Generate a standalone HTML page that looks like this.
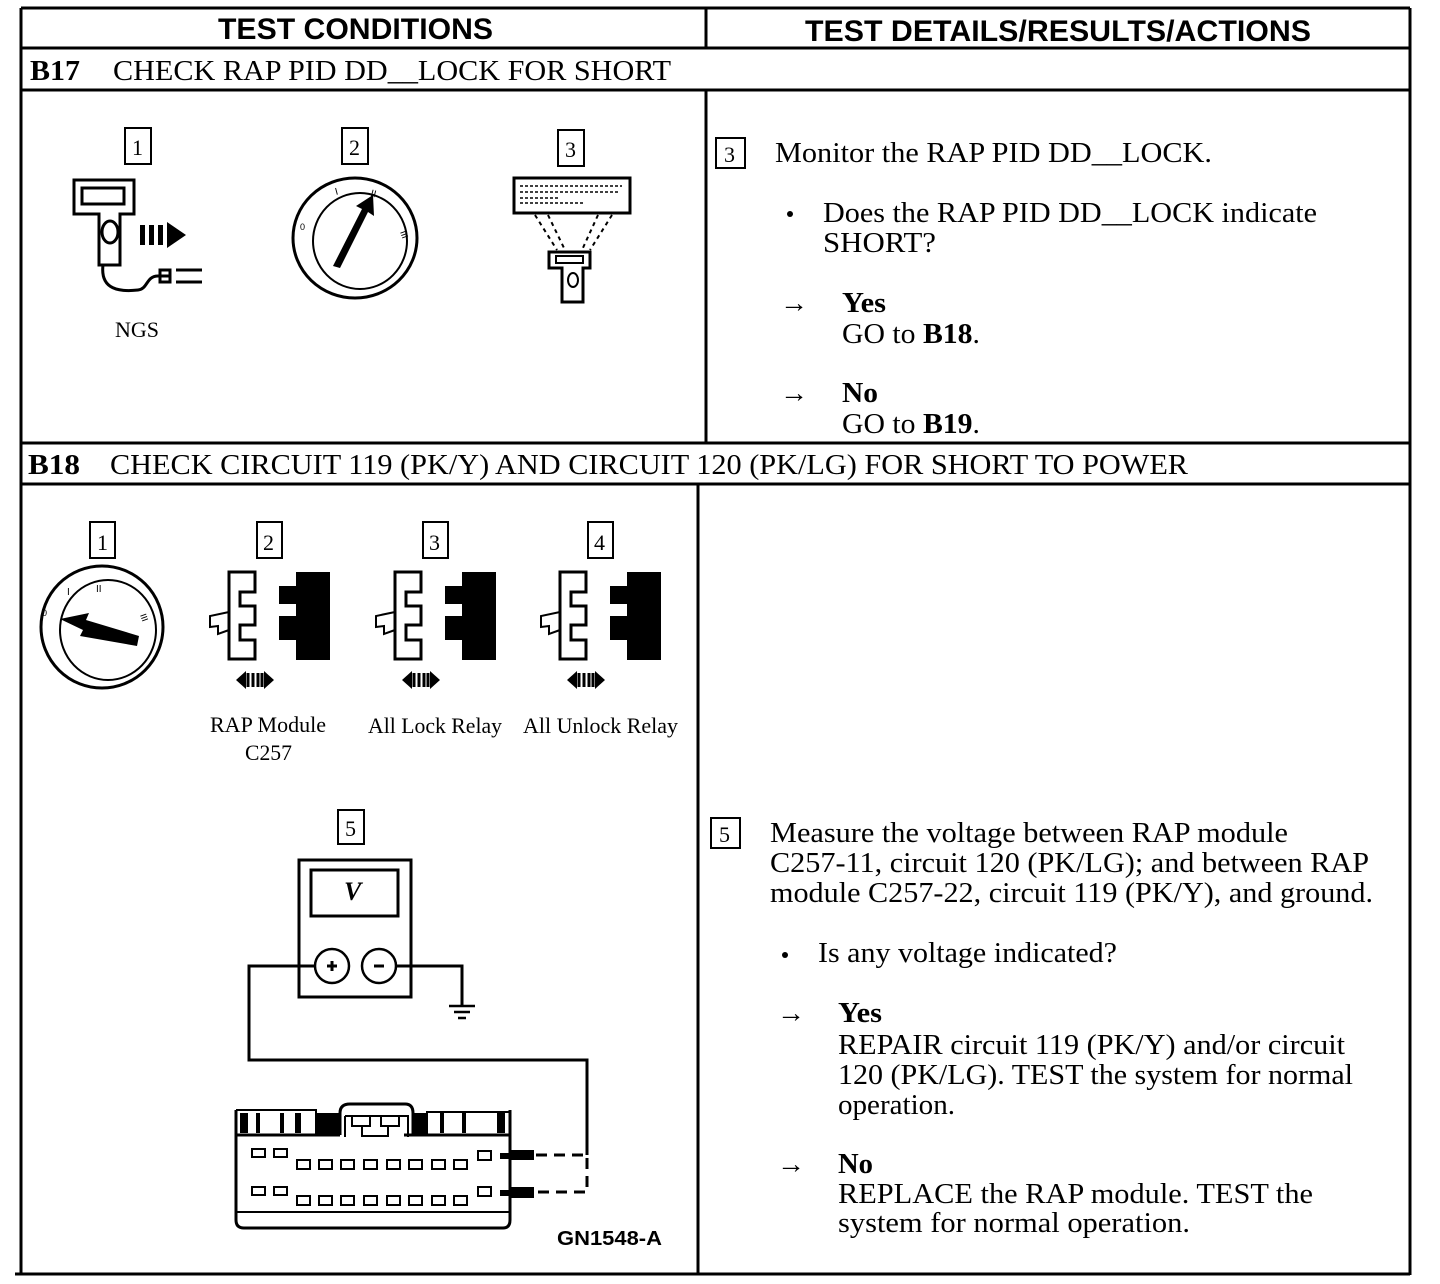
<!DOCTYPE html>
<html><head><meta charset="utf-8"><style>
html,body{margin:0;padding:0;background:#fff;}
svg{display:block;}
.s{font-family:"Liberation Serif",serif;font-size:28px;fill:#000;}
.h{font-family:"Liberation Sans",sans-serif;font-weight:bold;font-size:30px;fill:#000;}
.b{font-weight:bold;}
.n{font-family:"Liberation Serif",serif;font-size:22px;}
.l{font-family:"Liberation Serif",serif;font-size:22px;}
</style></head><body>
<svg width="1440" height="1284" viewBox="0 0 1440 1284" xmlns="http://www.w3.org/2000/svg">
<g stroke="#000" stroke-width="3" fill="none">
<line x1="21" y1="8" x2="1410" y2="8"/>
<line x1="21" y1="8" x2="21" y2="1275"/>
<line x1="1410" y1="8" x2="1410" y2="1275"/>
<line x1="21" y1="48" x2="1410" y2="48"/>
<line x1="21" y1="90" x2="1410" y2="90"/>
<line x1="706" y1="8" x2="706" y2="48"/>
<line x1="706" y1="90" x2="706" y2="443"/>
<line x1="21" y1="443" x2="1410" y2="443"/>
<line x1="21" y1="484" x2="1410" y2="484"/>
<line x1="698" y1="484" x2="698" y2="1275"/>
<line x1="15" y1="1274" x2="1410" y2="1274"/>
</g>
<text class="h" x="218" y="39" textLength="275" lengthAdjust="spacingAndGlyphs">TEST CONDITIONS</text>
<text class="h" x="805" y="41" textLength="506" lengthAdjust="spacingAndGlyphs">TEST DETAILS/RESULTS/ACTIONS</text>
<text class="s b" x="30" y="80" textLength="50" lengthAdjust="spacingAndGlyphs">B17</text>
<text class="s" x="113" y="80" textLength="558" lengthAdjust="spacingAndGlyphs">CHECK RAP PID DD__LOCK FOR SHORT</text>
<text class="s b" x="28" y="474" textLength="52" lengthAdjust="spacingAndGlyphs">B18</text>
<text class="s" x="110" y="474" textLength="1078" lengthAdjust="spacingAndGlyphs">CHECK CIRCUIT 119 (PK/Y) AND CIRCUIT 120 (PK/LG) FOR SHORT TO POWER</text>

<rect x="716" y="138" width="29" height="30" fill="none" stroke="#000" stroke-width="2"/>
<text class="n" x="724" y="162">3</text>
<text class="s" x="775" y="162" textLength="437" lengthAdjust="spacingAndGlyphs">Monitor the RAP PID DD__LOCK.</text>
<circle cx="790" cy="214" r="3"/>
<text class="s" x="823" y="222" textLength="494" lengthAdjust="spacingAndGlyphs">Does the RAP PID DD__LOCK indicate</text>
<text class="s" x="823" y="252" textLength="113" lengthAdjust="spacingAndGlyphs">SHORT?</text>
<text class="s" x="780" y="312">→</text>
<text class="s b" x="842" y="312" textLength="44" lengthAdjust="spacingAndGlyphs">Yes</text>
<text class="s" x="842" y="343" textLength="138" lengthAdjust="spacingAndGlyphs">GO to <tspan font-weight="bold">B18</tspan>.</text>
<text class="s" x="780" y="402">→</text>
<text class="s b" x="842" y="402" textLength="36" lengthAdjust="spacingAndGlyphs">No</text>
<text class="s" x="842" y="433" textLength="138" lengthAdjust="spacingAndGlyphs">GO to <tspan font-weight="bold">B19</tspan>.</text>

<rect x="711" y="818" width="29" height="30" fill="none" stroke="#000" stroke-width="2"/>
<text class="n" x="719" y="842">5</text>
<text class="s" x="770" y="842" textLength="518" lengthAdjust="spacingAndGlyphs">Measure the voltage between RAP module</text>
<text class="s" x="770" y="872" textLength="599" lengthAdjust="spacingAndGlyphs">C257-11, circuit 120 (PK/LG); and between RAP</text>
<text class="s" x="770" y="902" textLength="603" lengthAdjust="spacingAndGlyphs">module C257-22, circuit 119 (PK/Y), and ground.</text>
<circle cx="785" cy="955" r="3"/>
<text class="s" x="818" y="962" textLength="299" lengthAdjust="spacingAndGlyphs">Is any voltage indicated?</text>
<text class="s" x="777" y="1022">→</text>
<text class="s b" x="838" y="1022" textLength="44" lengthAdjust="spacingAndGlyphs">Yes</text>
<text class="s" x="838" y="1054" textLength="507" lengthAdjust="spacingAndGlyphs">REPAIR circuit 119 (PK/Y) and/or circuit</text>
<text class="s" x="838" y="1084" textLength="515" lengthAdjust="spacingAndGlyphs">120 (PK/LG). TEST the system for normal</text>
<text class="s" x="838" y="1114" textLength="117" lengthAdjust="spacingAndGlyphs">operation.</text>
<text class="s" x="777" y="1173">→</text>
<text class="s b" x="838" y="1173" textLength="35" lengthAdjust="spacingAndGlyphs">No</text>
<text class="s" x="838" y="1203" textLength="475" lengthAdjust="spacingAndGlyphs">REPLACE the RAP module. TEST the</text>
<text class="s" x="838" y="1232" textLength="352" lengthAdjust="spacingAndGlyphs">system for normal operation.</text>

<g stroke="#000" stroke-width="2" fill="none">
<rect x="125" y="128" width="26" height="36"/>
<rect x="342" y="128" width="26" height="36"/>
<rect x="558" y="130" width="26" height="36"/>
</g>
<text class="n" x="132" y="155">1</text><text class="n" x="349" y="155">2</text><text class="n" x="565" y="157">3</text>
<g stroke="#000" stroke-width="3" fill="none">
<path d="M74 180 H134 V214 H120 V265 H99 V214 H74 Z"/>
<rect x="82" y="188" width="42" height="16"/>
<ellipse cx="110" cy="232" rx="8" ry="11"/>
<path d="M103 265 C100 290 120 292 138 290 C148 289 146 276 158 276 H170"/>
<rect x="160" y="270" width="10" height="12"/>
<path d="M176 270 H202 M176 282 H202"/>
</g>
<path d="M140 225 h5 v20 h-5z M149 225 h5 v20 h-5z M158 225 h5 v20 h-5z M167 222 L186 235 L167 248 Z" fill="#000"/>
<text class="l" x="115" y="337">NGS</text>
<g stroke="#000" fill="none">
<ellipse cx="355" cy="238" rx="62" ry="60" stroke-width="3"/>
<ellipse cx="360" cy="241" rx="47" ry="48" stroke-width="2"/>
</g>
<path d="M333 266 L340 268 L368 212 L374 216 L373 195 L356 206 L362 209 Z" fill="#000"/>
<text x="300" y="230" font-size="9" font-family="Liberation Sans">0</text>
<text x="336" y="195" font-size="10" font-family="Liberation Sans" transform="rotate(-15 336 195)">I</text>
<text x="370" y="196" font-size="10" font-family="Liberation Sans" transform="rotate(15 370 196)">II</text>
<text x="400" y="232" font-size="9" font-family="Liberation Sans" transform="rotate(70 400 232)">III</text>
<g stroke="#000" fill="none">
<rect x="514" y="178" width="116" height="35" stroke-width="3"/>
<path d="M520 186 H622 M520 192 H620 M520 198 H560 M520 203 H585" stroke-width="1.5" stroke-dasharray="3 2"/>
<path d="M535 215 L557 250 M548 215 L565 250 M612 215 L590 250 M598 215 L582 250" stroke-width="2" stroke-dasharray="4 4"/>
<path d="M549 252 H590 V268 H583 V302 H562 V268 H549 Z" stroke-width="3"/>
<rect x="556" y="256" width="27" height="7" stroke-width="2"/>
<ellipse cx="573" cy="280" rx="5" ry="7" stroke-width="2"/>
</g>

<g stroke="#000" stroke-width="2" fill="none">
<rect x="90" y="522" width="25" height="36"/>
<rect x="257" y="522" width="25" height="36"/>
<rect x="423" y="522" width="25" height="36"/>
<rect x="588" y="522" width="25" height="36"/>
</g>
<text class="n" x="97" y="550">1</text><text class="n" x="263" y="550">2</text><text class="n" x="429" y="550">3</text><text class="n" x="594" y="550">4</text>
<g stroke="#000" fill="none">
<ellipse cx="102" cy="627" rx="61" ry="61" stroke-width="3"/>
<ellipse cx="108" cy="630" rx="48" ry="50" stroke-width="2"/>
</g>
<path d="M60 619 L83 630 L80 636 L137 646 L139 636 L86 620 L89 613 Z" fill="#000"/>
<text x="42" y="616" font-size="9" font-family="Liberation Sans">0</text>
<text x="67" y="595" font-size="10" font-family="Liberation Sans">I</text>
<text x="96" y="592" font-size="10" font-family="Liberation Sans">II</text>
<text x="140" y="615" font-size="9" font-family="Liberation Sans" transform="rotate(70 140 615)">III</text>
<g id="c2">
<path d="M229 572 H255 V592 H240 V606 H255 V625 H240 V640 H255 V659 H229 Z" fill="none" stroke="#000" stroke-width="3"/>
<path d="M229 612 L210 616 V627 L218 626 V634 L229 630" fill="none" stroke="#000" stroke-width="2"/>
<path d="M296 572 H330 V660 H296 V640 H279 V616 H296 V604 H279 V586 H296 Z" fill="#000"/>
<path d="M236 680 L246 671 V689 Z M274 680 L264 671 V689 Z" fill="#000"/>
<path d="M248 673 v14 M253 673 v14 M258 673 v14 M262 673 v14" stroke="#000" stroke-width="3"/>
</g>
<use href="#c2" x="166"/>
<use href="#c2" x="331"/>
<text class="l" x="210" y="732" textLength="116" lengthAdjust="spacingAndGlyphs">RAP Module</text>
<text class="l" x="245" y="760" textLength="47" lengthAdjust="spacingAndGlyphs">C257</text>
<text class="l" x="368" y="733" textLength="134" lengthAdjust="spacingAndGlyphs">All Lock Relay</text>
<text class="l" x="523" y="733" textLength="155" lengthAdjust="spacingAndGlyphs">All Unlock Relay</text>

<rect x="338" y="810" width="26" height="34" fill="none" stroke="#000" stroke-width="2"/>
<text class="n" x="345" y="836">5</text>
<g stroke="#000" fill="none">
<rect x="299" y="860" width="112" height="137" stroke-width="3"/>
<rect x="311" y="870" width="87" height="46" stroke-width="3"/>
<circle cx="332" cy="966" r="17" stroke-width="2.5"/>
<circle cx="379" cy="966" r="17" stroke-width="2.5"/>
<path d="M315 966 H249 V1060 H587 V1155" stroke-width="3"/>
<path d="M396 966 H462 V1005" stroke-width="3"/>
<path d="M449 1006 H475 M454 1012 H470 M458 1018 H466" stroke-width="2.5"/>
<path d="M327 966 H337 M332 961 V971 M374 966 H384" stroke-width="3"/>
<path d="M536 1155 H587 V1192 H536" stroke-width="3" stroke-dasharray="11 7"/>
</g>
<text x="344" y="900" font-family="Liberation Serif" font-size="26" font-style="italic" font-weight="bold">V</text>
<g stroke="#000" fill="none">
<path d="M236 1110 V1220 Q236 1228 244 1228 H503 Q510 1228 510 1220 V1110" stroke-width="3"/>
<path d="M236 1135 H340 M404 1135 H510" stroke-width="3"/>
<path d="M236 1110 H316 V1135 M427 1135 V1112 H510" stroke-width="2"/>
<path d="M340 1135 V1113 Q340 1104 350 1104 H405 Q413 1104 413 1113 V1135" stroke-width="3"/>
<path d="M345 1116 H408 V1137 M345 1116 V1137" stroke-width="2"/>
<path d="M352 1116 H370 V1126 H352 Z M381 1116 H399 V1126 H381 Z M362 1126 V1136 H388 V1126" stroke-width="2"/>
<path d="M236 1212 H510" stroke-width="2"/>
</g>
<g fill="#000">
<rect x="240" y="1113" width="8" height="20"/><rect x="256" y="1113" width="4" height="20"/><rect x="280" y="1113" width="4" height="20"/><rect x="295" y="1113" width="6" height="20"/><rect x="316" y="1113" width="24" height="22"/>
<rect x="413" y="1113" width="14" height="22"/><rect x="440" y="1113" width="4" height="20"/><rect x="462" y="1113" width="4" height="20"/><rect x="497" y="1113" width="8" height="20"/>
<rect x="500" y="1153" width="34" height="6"/><rect x="510" y="1150" width="24" height="10"/>
<rect x="500" y="1190" width="34" height="6"/><rect x="510" y="1187" width="24" height="11"/>
</g>
<g stroke="#000" stroke-width="2" fill="none">
<rect x="252" y="1149" width="13" height="8"/><rect x="274" y="1149" width="13" height="8"/>
<rect x="297" y="1160" width="13" height="9"/><rect x="319" y="1160" width="13" height="9"/><rect x="341" y="1160" width="13" height="9"/><rect x="364" y="1160" width="13" height="9"/><rect x="387" y="1160" width="13" height="9"/><rect x="409" y="1160" width="13" height="9"/><rect x="432" y="1160" width="13" height="9"/><rect x="454" y="1160" width="13" height="9"/>
<rect x="478" y="1151" width="13" height="9"/>
<rect x="252" y="1187" width="13" height="8"/><rect x="274" y="1187" width="13" height="8"/>
<rect x="297" y="1196" width="13" height="9"/><rect x="319" y="1196" width="13" height="9"/><rect x="341" y="1196" width="13" height="9"/><rect x="364" y="1196" width="13" height="9"/><rect x="387" y="1196" width="13" height="9"/><rect x="409" y="1196" width="13" height="9"/><rect x="432" y="1196" width="13" height="9"/><rect x="454" y="1196" width="13" height="9"/>
<rect x="478" y="1187" width="13" height="9"/>
</g>
<text x="557" y="1245" font-family="Liberation Sans" font-weight="bold" font-size="20" textLength="105" lengthAdjust="spacingAndGlyphs">GN1548-A</text>
</svg>
</body></html>
